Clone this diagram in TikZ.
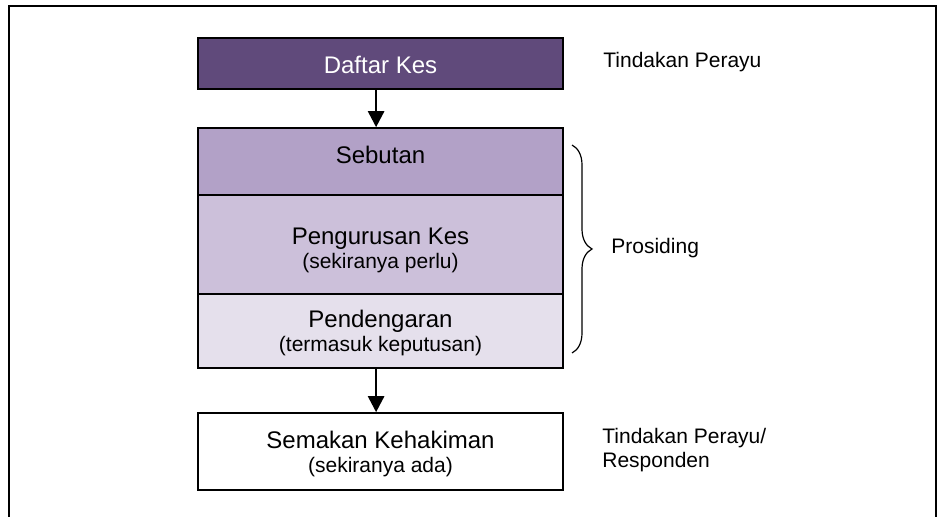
\documentclass[tikz,border=0pt]{standalone}
\usepackage{fontspec}
\setmainfont{Liberation Sans}
\usetikzlibrary{arrows.meta,decorations.pathreplacing}

\definecolor{kesdark}{HTML}{604A7B}
\definecolor{kesmid}{HTML}{B2A1C7}
\definecolor{keslight}{HTML}{CCC0DA}
\definecolor{kespale}{HTML}{E5E0EC}

\newcommand{\smalltxt}[1]{{\fontsize{10.5}{12}\selectfont #1}}

\begin{document}
\begin{tikzpicture}[x=.5pt,y=-.5pt,
  box/.style={draw=black,line width=.8pt,minimum width=182.5pt,inner sep=0pt},
  txt/.style={font=\fontsize{12}{12}\selectfont,align=center,inner sep=0pt},
  side/.style={font=\fontsize{10.5}{12}\selectfont,align=left,inner sep=0pt,anchor=west},
  arr/.style={line width=1.3pt,-{Triangle[width=8pt,length=8pt]}}]

\useasboundingbox (0,0) rectangle (941,517);
\draw[line width=1pt] (9,517) -- (9,6) -- (936,6) -- (936,517);

\node[box,fill=kesdark,minimum height=25.5pt] (daftar) at (380.5,63.5) {};
\node[txt,white] (daftartxt) at (380.5,64.5) {Daftar Kes};

\node[box,fill=kesmid,minimum height=33.5pt] (sebutan) at (380.5,161.5) {};
\node[txt] (sebutantxt) at (380.5,155) {Sebutan};

\node[box,fill=keslight,minimum height=49.5pt] (urus) at (380.5,244.5) {};
\node[txt] (urustxt) at (380.5,250) {Pengurusan Kes\\\smalltxt{(sekiranya perlu)}};

\node[box,fill=kespale,minimum height=37pt] (dengar) at (380.5,331) {};
\node[txt] (dengartxt) at (380.5,333) {Pendengaran\\\smalltxt{(termasuk keputusan)}};

\node[box,fill=white,minimum height=38.5pt] (semakan) at (380.5,451.5) {};
\node[txt] (semakantxt) at (380.5,454) {Semakan Kehakiman\\\smalltxt{(sekiranya ada)}};

\draw[arr] ([xshift=-2.2pt]daftar.south) -- ([xshift=-2.2pt]sebutan.north);
\draw[arr] ([xshift=-2.2pt]dengar.south) -- ([xshift=-2.2pt]semakan.north);

% kurungan prosiding
\coordinate (bracetop) at (572,145);
\coordinate (bracebot) at (572,353);
\draw[line width=.6pt,decorate,decoration={brace,amplitude=10pt}] (bracetop) -- (bracebot);

\node[side] (perayu) at (603,62) {Tindakan Perayu};
\node[side] (prosiding) at (611,248) {Prosiding};
\node[side] (responden) at (602,450) {Tindakan Perayu/\\Responden};

\end{tikzpicture}
\end{document}
